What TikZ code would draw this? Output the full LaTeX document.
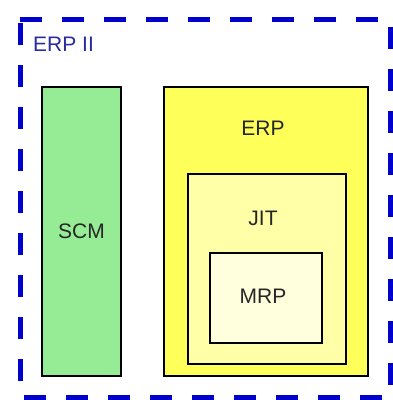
\documentclass[tikz,border=0pt]{standalone}
\usepackage{fontspec}
\setmainfont{Liberation Sans}
\definecolor{scmgreen}{HTML}{95EC95}
\definecolor{erpyellow}{HTML}{FFFF5A}
\definecolor{jityellow}{HTML}{FFFFA8}
\definecolor{mrpyellow}{HTML}{FFFFDD}
\definecolor{dashblue}{HTML}{0000CC}
\definecolor{labelblue}{HTML}{2A2AA0}
\begin{document}
\begin{tikzpicture}[x=1pt,y=-1pt,
  boxstyle/.style={draw=black,line width=1.5pt},
  lbl/.style={font=\fontsize{21}{23}\selectfont,text=black!85,inner sep=0pt}]
\useasboundingbox[fill=white] (0,0) rectangle (393,400);
\draw[dashblue,line width=5pt,dash pattern=on 22pt off 20pt] (20,19) -- (390,19) -- (390,397) -- (20,397) -- cycle;
\node[font=\fontsize{21}{23}\selectfont,text=labelblue,anchor=west,inner sep=0pt] (erpii) at (33,44) {ERP II};
\draw[boxstyle,fill=scmgreen] (42,87) rectangle (121,376);
\draw[boxstyle,fill=erpyellow] (164,87) rectangle (368,376);
\draw[boxstyle,fill=jityellow] (188,174) rectangle (346,364);
\draw[boxstyle,fill=mrpyellow] (210,253) rectangle (322,343);
\node[lbl] (scm) at (81.5,231) {SCM};
\node[lbl] (erp) at (263,128) {ERP};
\node[lbl] (jit) at (263,218) {JIT};
\node[lbl] (mrp) at (263,296) {MRP};
\end{tikzpicture}
\end{document}
